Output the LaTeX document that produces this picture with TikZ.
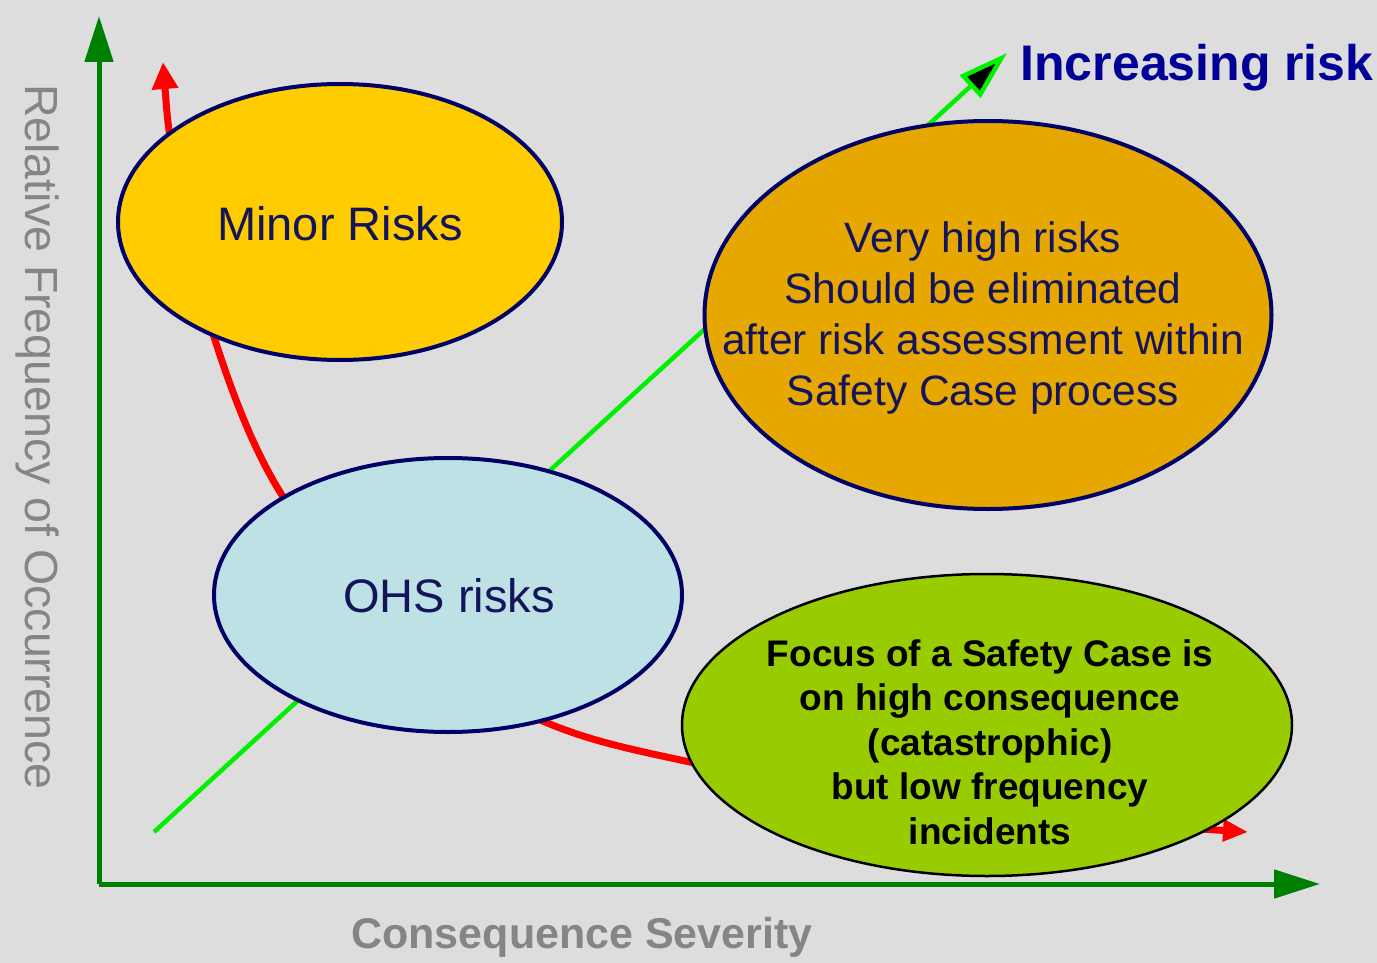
\documentclass[tikz,border=0pt]{standalone}
\usepackage{fontspec}
\setmainfont{Liberation Sans}
\usetikzlibrary{shapes.geometric,arrows.meta}
\definecolor{bg}{HTML}{DDDDDD}
\definecolor{axisgreen}{HTML}{008000}
\definecolor{brightgreen}{HTML}{00F000}
\definecolor{navyline}{HTML}{000066}
\definecolor{navytext}{HTML}{14145A}
\definecolor{incrblue}{HTML}{000099}
\definecolor{axisgray}{HTML}{858585}
\definecolor{minorfill}{HTML}{FFCC00}
\definecolor{highfill}{HTML}{E6A800}
\definecolor{ohsfill}{HTML}{BDE1E4}
\definecolor{focusfill}{HTML}{99CC00}
\definecolor{redline}{HTML}{FF0000}
\begin{document}
\begin{tikzpicture}[x=1pt,y=-1pt,
  axis/.style={draw=axisgreen,line width=5pt,-{Triangle[length=46pt,width=28pt]}},
  riskell/.style={ellipse,draw=navyline,line width=4pt,inner sep=0pt},
  focusell/.style={ellipse,draw=black,line width=2.5pt,inner sep=0pt},
  lbl/.style={align=center,text=navytext,inner sep=0pt},
  redcurve/.style={draw=redline,line width=7pt,
    {Triangle[length=27pt,width=25pt]}-{Triangle[length=25pt,width=21pt]}},
  incr/.style={draw=brightgreen,line width=4.5pt,line join=miter,
    -{Triangle[length=50pt,width=30pt,fill=black]}}
]
\fill[bg] (0,0) rectangle (1377,963);
\useasboundingbox (0,0) rectangle (1377,963);

% axes
\coordinate (O) at (99,884);
\coordinate (ytop) at (99,16);
\coordinate (xend) at (1320,884);
\draw[axis] (O) -- (ytop);
\draw[axis] (O) -- (xend);

% axis labels
\node[text=axisgray,font=\fontsize{43}{43}\selectfont\bfseries] (xlab) at (582,937) {Consequence Severity};
\node[text=axisgray,rotate=-90,font=\fontsize{46.5}{46.5}\selectfont] (ylab) at (38,437) {Relative Frequency of Occurrence};

% red frequency/consequence curve
\draw[redcurve] plot[smooth,tension=0.55] coordinates {(163,62) (176,170) (215,340) (280,492) (400,640) (545,722) (690,762) (950,808) (1248,832)};

% increasing risk line
\coordinate (gs) at (154,832);
\coordinate (ge) at (1007,53);
\draw[incr] (gs) -- (ge);
\node[text=incrblue,font=\fontsize{50}{50}\selectfont\bfseries,anchor=west] (inc) at (1017,68) {Increasing risk};

% ellipses
\node[riskell,fill=minorfill,minimum width=444pt,minimum height=276pt] (minor) at (340,222) {};
\node[riskell,fill=highfill,minimum width=567pt,minimum height=388pt] (high) at (988,315) {};
\node[riskell,fill=ohsfill,minimum width=468pt,minimum height=274pt] (ohs) at (448,595) {};
\node[focusell,fill=focusfill,minimum width=610pt,minimum height=302pt] (focus) at (987,725) {};

% texts
\node[lbl,font=\fontsize{47}{51}\selectfont] (minort) at (340,224) {Minor Risks};
\node[lbl,font=\fontsize{47}{51}\selectfont] (ohst) at (449,596) {OHS risks};
\node[lbl,font=\fontsize{42.5}{51}\selectfont] (hight) at (983,318) {Very high risks\\Should be eliminated\\after risk assessment within\\Safety Case process};
\node[lbl,text=black,font=\fontsize{37}{44.5}\selectfont\bfseries] (focust) at (990,742) {Focus of a Safety Case is\\on high consequence\\(catastrophic)\\but low frequency\\incidents};
\end{tikzpicture}
\end{document}
